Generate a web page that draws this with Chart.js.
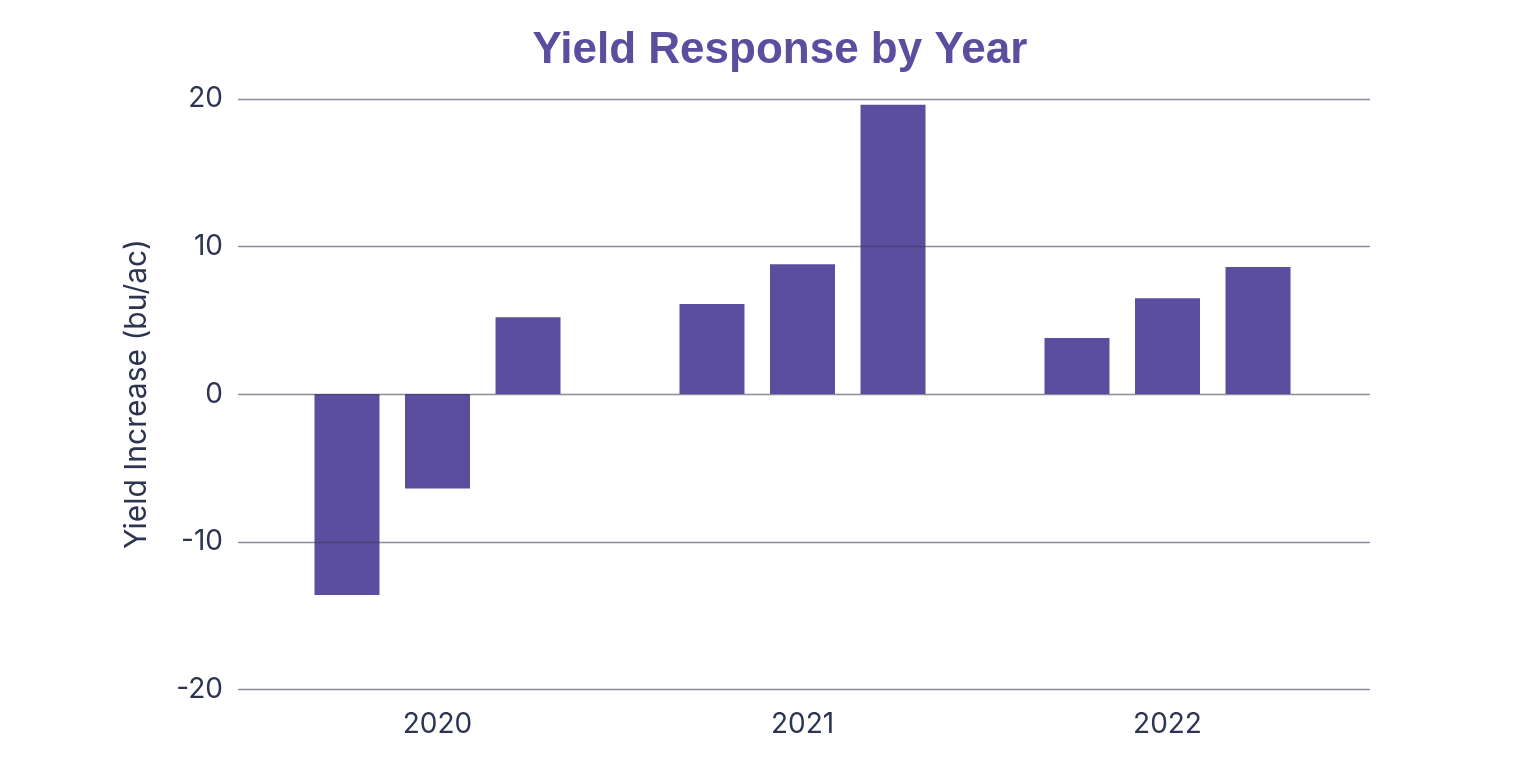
<!DOCTYPE html>
<html>
<head>
<meta charset="utf-8">
<script src="https://cdn.jsdelivr.net/npm/chart.js@4/dist/chart.umd.min.js"></script>
<style>
  html, body { margin: 0; padding: 0; background: #ffffff; }
  #wrap { width: 1536px; height: 779px; position: relative; }
</style>
</head>
<body>
<div id="wrap"><canvas id="c"></canvas></div>
<script>
const categories = ['2020', '2021', '2022'];
const seriesA = [-13.6, 6.1, 3.8];
const seriesB = [-6.4, 8.8, 6.5];
const seriesC = [5.2, 19.6, 8.6];
const yTicks = [-20, -10, 0, 10, 20];

const barColor = '#5b4e9e';
const tickColor = '#2b3450';

const gridPlugin = {
  id: 'gridOnTop',
  afterDatasetsDraw(chart) {
    const y = chart.scales.y;
    const area = chart.chartArea;
    const ctx = chart.ctx;
    ctx.save();
    ctx.strokeStyle = 'rgba(60,64,90,0.6)';
    ctx.lineWidth = 1.5;
    y.ticks.forEach(t => {
      const py = Math.round(y.getPixelForValue(t.value)) + 0.5;
      ctx.beginPath();
      ctx.moveTo(area.left - 17, py);
      ctx.lineTo(area.right + 20, py);
      ctx.stroke();
    });
    ctx.restore();
  }
};

const mk = (data) => ({
  data: data,
  backgroundColor: barColor,
  borderWidth: 0,
  categoryPercentage: 0.744,
  barPercentage: 0.718
});

new Chart(document.getElementById('c'), {
  type: 'bar',
  data: {
    labels: categories,
    datasets: [mk(seriesA), mk(seriesB), mk(seriesC)]
  },
  plugins: [gridPlugin],
  options: {
    responsive: true,
    maintainAspectRatio: false,
    animation: false,
    layout: { padding: { left: 24, right: 0, top: 0, bottom: 20 } },
    plugins: {
      legend: { display: false },
      tooltip: { enabled: false },
      title: {
        display: true,
        text: 'Yield Response by Year',
        color: barColor,
        font: { family: "'Liberation Sans', Arial, sans-serif", size: 44, weight: 'bold' },
        padding: { top: 24, bottom: 22 }
      }
    },
    scales: {
      x: {
        grid: { display: false, drawTicks: false },
        border: { display: false },
        ticks: {
          color: tickColor,
          font: { family: 'Inter, sans-serif', size: 28 },
          padding: 18
        }
      },
      y: {
        min: -20,
        max: 20,
        afterBuildTicks: (s) => { s.ticks = yTicks.map(v => ({ value: v })); },
        afterFit: (s) => { s.width = 231; },
        grid: { display: false, drawTicks: false },
        border: { display: false },
        ticks: {
          color: tickColor,
          font: { family: 'Inter, sans-serif', size: 28 },
          padding: 32
        },
        title: {
          display: true,
          text: 'Yield Increase (bu/ac)',
          color: tickColor,
          font: { family: 'Inter, sans-serif', size: 30 },
          padding: { top: 95, bottom: 0 }
        }
      },
      y2: {
        position: 'right',
        display: true,
        min: -20,
        max: 20,
        afterFit: (s) => { s.width = 186; },
        grid: { display: false, drawTicks: false },
        border: { display: false },
        ticks: { display: false }
      }
    }
  }
});
</script>
</body>
</html>
